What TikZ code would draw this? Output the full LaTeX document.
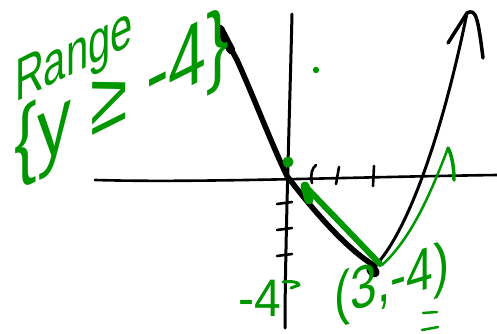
\documentclass[tikz,border=0pt]{standalone}
\usepackage{fontspec}
\setmainfont{Liberation Sans}
\usetikzlibrary{arrows.meta}
\definecolor{pen}{RGB}{0,150,0}
\tikzset{
  ink/.style={line cap=round,line join=round},
  blk/.style={ink,draw=black},
  grn/.style={ink,draw=pen},
  lbl/.style={text=pen,inner sep=0pt},
  tickmark/.style={blk,line width=2.6},
}
\begin{document}
\begin{tikzpicture}[x=1pt,y=-1pt]
\useasboundingbox (0,0) rectangle (497,334);
% key points
\coordinate (xl) at (95,180);
\coordinate (xr) at (497,175);
\coordinate (yt) at (292,14);
\coordinate (yb) at (285,328);
\coordinate (O) at (287,176);
\coordinate (V) at (375,266);
\coordinate (L) at (220,29);
\coordinate (R) at (467,13);
% axes
\draw[blk,line width=2.6] (xl) .. controls (200,183) and (350,177) .. (xr);
\draw[blk,line width=3] (yt) .. controls (290,100) and (285,250) .. (yb);
% x ticks
\draw[tickmark] (312,183) .. controls (310,175) and (312,168) .. (316,165);
\draw[tickmark] (336,184) -- (339,167);
\draw[tickmark] (373,186) -- (374,166);
% y ticks
\foreach \t in {203,229,255}{
  \draw[tickmark] (277,\t+1) -- (292,\t-1);
}
% parabola
\draw[blk,line width=5.5] (L) -- (237,60) .. controls (255,100) and (272,145) .. (O)
  .. controls (316,214) and (348,250) .. (V);
\draw[blk,line width=8.5] (L) -- (231,50);
\draw[blk,line width=3] (V) .. controls (405,235) and (440,145) .. (R);
\draw[blk,line width=3.5] (448,43) -- (R) .. controls (476,8) and (478,18) .. (483,58);
\fill[black,rotate around={-40:(373,271)}] (373,271) ellipse (7pt and 5.5pt);
% green marks
\fill[pen] (316,70) circle (3.2pt);
\fill[pen] (288,162) circle (5.5pt);
\draw[grn,line width=6] (380,264) -- (305,186);
\draw[grn,line width=9] (305,186) -- (309,200);
\draw[grn,line width=2.5] (382,265) .. controls (412,238) and (432,190) .. (448,148);
\draw[grn,line width=3.5] (448,148) .. controls (452,155) and (454,168) .. (454,180);
\draw[grn,line width=3] (283,282) .. controls (292,281) and (299,282) .. (299,285) -- (291,288);
\draw[grn,line width=2.5] (423,313) -- (437,312);
\draw[grn,line width=2.5] (422,330) -- (438,327);
% labels
\node[lbl,yslant=0.5,yscale=1.5,font=\fontsize{40}{40}\selectfont] (range) at (74,59) {Range};
\node[lbl,yslant=0.5,yscale=1.3,font=\fontsize{68}{68}\selectfont] (rng) at (122,98) {\{y ≥ -4\}};
\node[lbl,yscale=1.1,font=\fontsize{48}{48}\selectfont] (m4) at (260,298) {-4};
\node[lbl,yslant=0.3,yscale=1.25,font=\fontsize{48}{48}\selectfont] (vx) at (392,284) {(3,-4)};
\end{tikzpicture}
\end{document}
